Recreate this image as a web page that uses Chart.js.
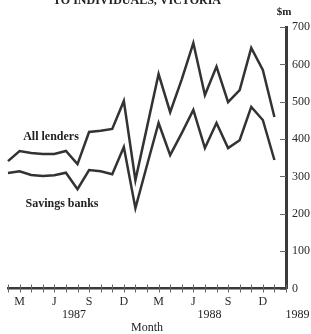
<!DOCTYPE html>
<html>
<head>
<meta charset="utf-8">
<script src="https://cdn.jsdelivr.net/npm/chart.js@4.4.1/dist/chart.umd.min.js"></script>
<style>
  html, body { margin: 0; padding: 0; background: #fff; }
  #wrap { width: 311px; height: 334px; position: relative; }
</style>
</head>
<body>
<div id="wrap"><canvas id="lendChart" width="311" height="334"></canvas></div>
<script>
// months Feb 1987 .. Feb 1989 (one tick per month)
const monthLabels = ['F','M','A','M','J','J','A','S','O','N','D',
                     'J','F','M','A','M','J','J','A','S','O','N','D',
                     'J','F'];
const shownMonths = ['M','J','S','D'];
const yearLabels = ['1987', '1988', '1989'];

// $m
const allLenders   = [341, 368, 363, 360, 360, 368, 333, 419, 422, 427, 502, 290,
                      432, 574, 472, 560, 657, 518, 594, 499, 531, 644, 585, 459];
const savingsBanks = [309, 314, 304, 301, 303, 310, 266, 317, 314, 306, 379, 215,
                      330, 443, 357, 416, 478, 376, 443, 376, 397, 486, 451, 344];

const yTicks = [0, 100, 200, 300, 400, 500, 600, 700];

const SERIF = "'Liberation Serif', 'DejaVu Serif', serif";
Chart.defaults.font.family = SERIF;
Chart.defaults.color = '#2b2b2b';

// texts and little tick marks, like the printed chart
var extras = {
  id: 'extras',
  afterDraw(chart) {
    const ctx = chart.ctx;
    const xs = chart.scales.x, ys = chart.scales.y;
    const axisY = ys.getPixelForValue(0);
    const axisX = chart.chartArea.right;
    ctx.save();

    // month ticks crossing the x axis
    ctx.strokeStyle = '#666';
    ctx.lineWidth = 1;
    for (let i = 0; i < monthLabels.length; i++) {
      const px = Math.round(xs.getPixelForValue(i)) + 0.5;
      ctx.beginPath();
      ctx.moveTo(px, axisY - 4);
      ctx.lineTo(px, axisY + 4);
      ctx.stroke();
    }
    // value ticks on the left of the y axis
    yTicks.forEach(function(v) {
      const py = Math.round(ys.getPixelForValue(v)) + 0.5;
      ctx.beginPath();
      ctx.moveTo(axisX - 6, py);
      ctx.lineTo(axisX, py);
      ctx.stroke();
    });

    ctx.fillStyle = '#222';
    ctx.textAlign = 'center';
    ctx.textBaseline = 'alphabetic';

    // title (top cut off in the original)
    ctx.font = 'bold 12px ' + SERIF;
    ctx.fillText('TO INDIVIDUALS, VICTORIA', 137, 4);

    ctx.font = 'bold 11px ' + SERIF;
    ctx.fillText('$m', 284, 15);

    // years under the month letters
    ctx.font = '12px ' + SERIF;
    const yearAt = [5.7, 17.4, 25];
    yearLabels.forEach(function(y, k) {
      ctx.fillText(y, xs.getPixelForValue(yearAt[k]), 318);
    });
    ctx.fillText('Month', 147, 331);

    // series labels
    ctx.font = 'bold 12px ' + SERIF;
    ctx.fillText('All lenders', 51, 140);
    ctx.fillText('Savings banks', 62, 207);
    ctx.restore();
  }
};

var lineStyle = {
  borderColor: '#333',
  borderWidth: 2.5,
  pointRadius: 0,
  tension: 0,
  fill: false
};

new Chart(document.getElementById('lendChart'), {
  type: 'line',
  data: {
    labels: monthLabels,
    datasets: [
      Object.assign({ label: 'All lenders', data: allLenders }, lineStyle),
      Object.assign({ label: 'Savings banks', data: savingsBanks }, lineStyle)
    ]
  },
  options: {
    responsive: false,
    animation: false,
    devicePixelRatio: 1,
    layout: { padding: { left: 8, top: 27, right: 0, bottom: 0 } },
    plugins: { legend: { display: false }, tooltip: { enabled: false } },
    scales: {
      x: {
        type: 'category',
        offset: false,
        grid: { display: false, drawTicks: false },
        border: { display: true, width: 2.5, color: '#3a3a3a' },
        ticks: {
          autoSkip: false,
          maxRotation: 0,
          padding: 6,
          font: { size: 12 },
          callback: function(val, i) {
            return (i % 3 === 1 && shownMonths.includes(monthLabels[i])) ? monthLabels[i] : '';
          }
        },
        afterFit: function(scale) { scale.height = 45.5; }
      },
      y: {
        position: 'right',
        min: 0,
        max: 700,
        grid: { display: false, drawTicks: false },
        border: { display: true, width: 3, color: '#3a3a3a' },
        ticks: { stepSize: 100, padding: 6, font: { size: 12 } },
        afterFit: function(scale) { scale.width = 25; }
      }
    }
  },
  plugins: [extras]
});
</script>
</body>
</html>
